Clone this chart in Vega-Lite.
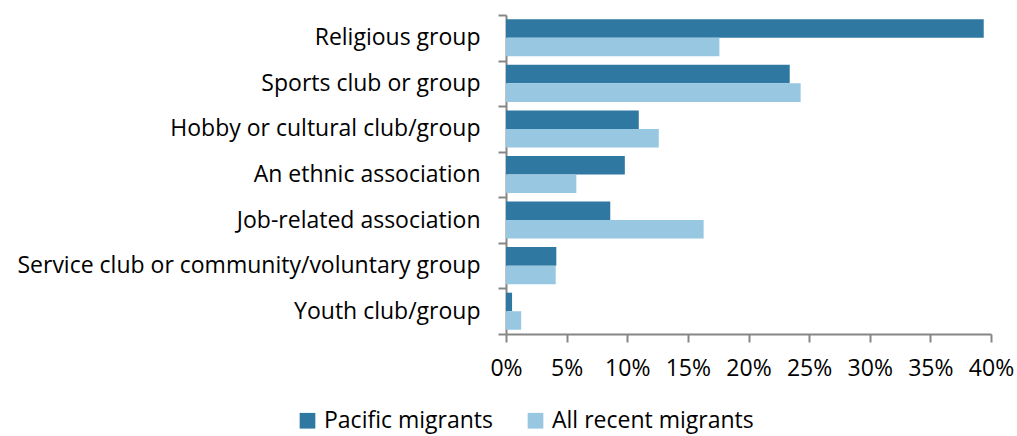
{
  "$schema": "https://vega.github.io/schema/vega-lite/v6.json",
  "width": 485,
  "height": 319,
  "autosize": {"type": "none"},
  "padding": {"left": 506, "top": 15, "right": 26, "bottom": 102},
  "background": "white",
  "config": {
    "font": "Open Sans",
    "view": {"stroke": null},
    "axis": {"grid": false, "domainColor": "#868686", "domainWidth": 2, "tickColor": "#868686", "tickWidth": 2, "tickSize": 8, "labelColor": "#000000", "labelFontSize": 23, "labelFont": "Open Sans"}
  },
  "data": {
    "values": [
      {"category": "Religious group", "series": "Pacific migrants", "value": 0.394},
      {"category": "Religious group", "series": "All recent migrants", "value": 0.176},
      {"category": "Sports club or group", "series": "Pacific migrants", "value": 0.234},
      {"category": "Sports club or group", "series": "All recent migrants", "value": 0.243},
      {"category": "Hobby or cultural club/group", "series": "Pacific migrants", "value": 0.1095},
      {"category": "Hobby or cultural club/group", "series": "All recent migrants", "value": 0.126},
      {"category": "An ethnic association", "series": "Pacific migrants", "value": 0.098},
      {"category": "An ethnic association", "series": "All recent migrants", "value": 0.058},
      {"category": "Job-related association", "series": "Pacific migrants", "value": 0.086},
      {"category": "Job-related association", "series": "All recent migrants", "value": 0.163},
      {"category": "Service club or community/voluntary group", "series": "Pacific migrants", "value": 0.0415},
      {"category": "Service club or community/voluntary group", "series": "All recent migrants", "value": 0.041},
      {"category": "Youth club/group", "series": "Pacific migrants", "value": 0.005},
      {"category": "Youth club/group", "series": "All recent migrants", "value": 0.0125}
    ]
  },
  "mark": {"type": "bar"},
  "encoding": {
    "y": {
      "field": "category",
      "type": "nominal",
      "sort": ["Religious group", "Sports club or group", "Hobby or cultural club/group", "An ethnic association", "Job-related association", "Service club or community/voluntary group", "Youth club/group"],
      "scale": {"paddingInner": 0, "paddingOuter": 0},
      "axis": {"title": null, "tickBand": "extent", "labelPadding": 18, "labelLimit": 600}
    },
    "yOffset": {
      "field": "series",
      "type": "nominal",
      "sort": ["Pacific migrants", "All recent migrants"],
      "scale": {"paddingInner": 0, "paddingOuter": 0.23}
    },
    "x": {
      "field": "value",
      "type": "quantitative",
      "scale": {"domain": [0, 0.4], "nice": false},
      "axis": {"title": null, "values": [0, 0.05, 0.1, 0.15, 0.2, 0.25, 0.3, 0.35, 0.4], "format": ".0%", "labelPadding": 15, "labelFlush": false}
    },
    "color": {
      "field": "series",
      "type": "nominal",
      "sort": ["Pacific migrants", "All recent migrants"],
      "scale": {"domain": ["Pacific migrants", "All recent migrants"], "range": ["#2E78A2", "#98C7E1"]},
      "legend": {
        "title": null,
        "orient": "none",
        "legendX": -210,
        "legendY": 394,
        "direction": "horizontal",
        "symbolType": "square",
        "symbolSize": 246,
        "symbolStrokeWidth": 0,
        "labelFontSize": 23,
        "labelFont": "Open Sans",
        "labelColor": "#000000",
        "labelLimit": 400,
        "labelOffset": 5,
        "columnPadding": 30
      }
    }
  }
}
